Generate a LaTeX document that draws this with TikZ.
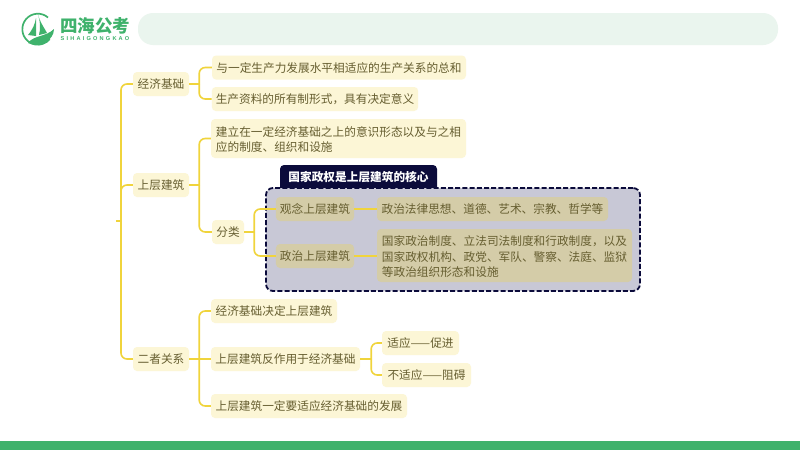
\documentclass[tikz,border=0pt]{standalone}
\usepackage{fontspec}
\setmainfont{Noto Sans CJK SC}
\newfontfamily\latinsans{Liberation Sans}
\definecolor{nodefill}{HTML}{FCF6D6}
\definecolor{nodefilltwo}{HTML}{D4CCA8}
\definecolor{txtc}{HTML}{665E30}
\definecolor{linec}{HTML}{F0D43C}
\definecolor{framefill}{HTML}{C8C8D6}
\definecolor{darkc}{HTML}{0B0B3B}
\definecolor{greenc}{HTML}{3FB26C}
\definecolor{barc}{HTML}{EAF5EE}
\newcommand{\lowerfirst}{\rule{0pt}{12.3pt}}
\tikzset{
 x=1pt,y=-1pt,
 box/.style={fill=nodefill,rounded corners=4pt,text=txtc,font=\fontsize{11.67}{15.4}\selectfont,
   inner xsep=4pt,inner ysep=0pt,align=left,minimum height=24pt,text height=11pt,text depth=1.5pt},
 tall/.style={text height=,text depth=},
 inframe/.style={fill=nodefilltwo},
 stub/.style={draw=linec,line width=1.6pt},
 conn/.style={draw=linec,line width=1.6pt,rounded corners=6pt},
}
\begin{document}
\begin{tikzpicture}
\useasboundingbox (0,0) rectangle (800,450);
\fill[white] (0,0) rectangle (800,450);
% header & footer
\fill[barc,rounded corners=15pt] (138,13) rectangle (778,45);
\fill[greenc] (0,441) rectangle (800,450);
% logo
\draw[greenc,line width=1.7pt] (48,17.5) arc (-49:-320:15.5);
\fill[greenc] (38,15) .. controls (41,24) and (45,29) .. (47,33) -- (39,35) .. controls (41,28) and (40,20) .. (38,15);
\fill[greenc] (36,18) .. controls (35,24) and (33,29) .. (28,35) -- (36,36) -- cycle;
\fill[greenc] (28,43) .. controls (34,35) and (46,37) .. (54,29) .. controls (54,40) and (40,49) .. (28,43) -- cycle;
\node[text=greenc,font=\fontsize{17.5}{18}\bfseries\selectfont,inner sep=0pt] (logotext) at (95,26) {四海公考};
\node[text=greenc,font=\latinsans\fontsize{5.6}{6}\bfseries\selectfont,inner sep=0pt] (logosub) at (95,39) {S\kern2.2pt I\kern2.2pt H\kern2.2pt A\kern2.2pt I\kern2.2pt G\kern2.2pt O\kern2.2pt N\kern2.2pt G\kern2.2pt K\kern2.2pt A\kern2.2pt O};
% callout and frame
\node[fill=darkc,rounded corners=4pt,text=white,font=\fontsize{11.67}{14}\bfseries\selectfont,minimum width=157pt,minimum height=28pt,inner sep=0pt,text depth=6pt,text height=10pt] (callout) at (358.5,179) {国家政权是上层建筑的核心};
\node[fill=framefill,draw=darkc,line width=1.8pt,dash pattern=on 5pt off 2.2pt,rounded corners=7pt,minimum width=374pt,minimum height=103pt,inner sep=0pt] (frame) at (453,239.5) {};
% level 1
\coordinate (root) at (116,221);
\node[box,minimum width=56pt] (a) at (161,84) {经济基础};
\node[box,minimum width=56pt] (b) at (161,185) {上层建筑};
\node[box,minimum width=56pt] (c) at (161,359) {二者关系};
% a children
\node[box,minimum width=254pt] (a1) at (339,67.5) {与一定生产力发展水平相适应的生产关系的总和};
\node[box,minimum width=206pt] (a2) at (315,99) {生产资料的所有制形式，具有决定意义};
% b children
\node[box,tall,minimum width=255pt,minimum height=39pt] (b1) at (338.5,138.5) {\lowerfirst 建立在一定经济基础之上的意识形态以及与之相\\应的制度、组织和设施};
\node[box,minimum width=32pt] (b2) at (228,232) {分类};
\node[box,inframe,minimum width=78pt] (b21) at (315,209) {观念上层建筑};
\node[box,inframe,minimum width=78pt] (b22) at (315,256) {政治上层建筑};
\node[box,inframe,minimum width=231pt] (b211) at (492.5,209) {政治法律思想、道德、艺术、宗教、哲学等};
\node[box,tall,inframe,minimum width=255pt,minimum height=53pt] (b221) at (504.5,255.5) {\lowerfirst 国家政治制度、立法司法制度和行政制度，以及\\国家政权机构、政党、军队、警察、法庭、监狱\\等政治组织形态和设施};
% c children
\node[box,minimum width=126pt] (c1) at (274,311) {经济基础决定上层建筑};
\node[box,minimum width=149pt] (c2) at (285.5,359) {上层建筑反作用于经济基础};
\node[box,minimum width=196pt] (c3) at (309,406) {上层建筑一定要适应经济基础的发展};
\node[box,minimum width=77pt] (c21) at (420.5,343) {适应——促进};
\node[box,minimum width=89pt] (c22) at (426.5,375) {不适应——阻碍};
% connectors
\draw[stub] (root) -- ++(5,0) coordinate (rj);
\draw[conn] (rj) |- (a.west);
\draw[conn] (rj) |- (b.west);
\draw[conn] (rj) |- (c.west);
\draw[stub] (a.east) -- ++(10,0) coordinate (aj);
\draw[conn] (aj) |- (a1.west);
\draw[conn] (aj) |- (a2.west);
\draw[stub] (b.east) -- ++(10,0) coordinate (bj);
\draw[conn] (bj) |- (b1.west);
\draw[conn] (bj) |- (b2.west);
\draw[stub] (b2.east) -- ++(10,0) coordinate (b2j);
\draw[conn] (b2j) |- (b21.west);
\draw[conn] (b2j) |- (b22.west);
\draw[stub] (b21.east) -- (b211.west);
\draw[stub] (b22.east) -- (b22.east -| b221.west);
\draw[stub] (c.east) -- (c2.west);
\coordinate (cj) at ([xshift=10pt]c.east);
\draw[conn] (cj) |- (c1.west);
\draw[conn] (cj) |- (c3.west);
\draw[stub] (c2.east) -- ++(11,0) coordinate (c2j);
\draw[conn] (c2j) |- (c21.west);
\draw[conn] (c2j) |- (c22.west);
\end{tikzpicture}
\end{document}
